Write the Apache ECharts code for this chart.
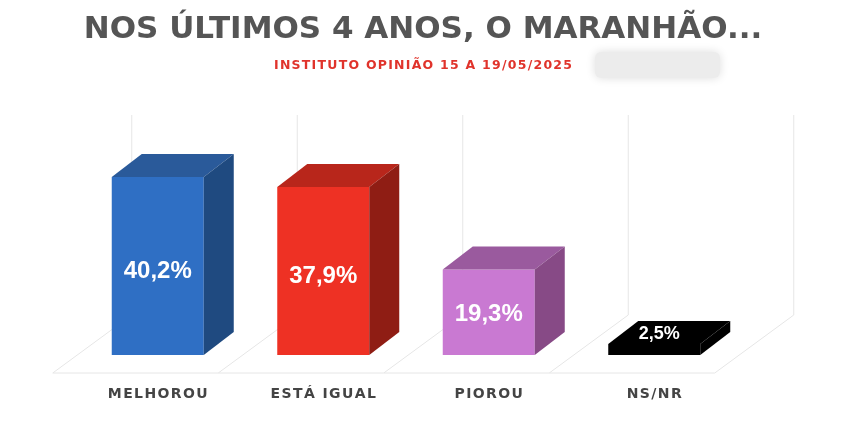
<!DOCTYPE html>
<html><head><meta charset="utf-8">
<script src="https://cdn.jsdelivr.net/npm/echarts@6/dist/echarts.min.js"></script>
<style>html,body{margin:0;background:#fff}#c{width:860px;height:425px}</style>
</head><body><div id="c"></div>
<script>
const categories = ['MELHOROU', 'ESTÁ IGUAL', 'PIOROU', 'NS/NR'];
const values = [40.2, 37.9, 19.3, 2.5];
const valueLabels = ['40,2%', '37,9%', '19,3%', '2,5%'];
const frontColors = ['#2f6fc4', '#ee3124', '#c979d2', '#000000'];
const topColors = ['#2a5a9a', '#b8261b', '#9a5a9e', '#000000'];
const sideColors = ['#1f4a80', '#8f1d14', '#874a86', '#000000'];

const chart = echarts.init(document.getElementById('c'));
const DX = 30, DY = 23, HALF = 46;

function floorItem(params, api) {
  const i = api.value(0);
  const c = api.coord([i, 0]);
  const band = api.size([1, 0])[0];
  const kids = [];
  const st = {stroke: '#e6e6e6', lineWidth: 1};
  const addDiv = (cx) => {
    kids.push({type: 'line', shape: {x1: cx - 105, y1: c[1] + 18, x2: cx - 26, y2: c[1] - 40}, style: st, silent: true});
    kids.push({type: 'line', shape: {x1: cx - 26, y1: c[1] - 40, x2: cx - 26, y2: c[1] - 240}, style: st, silent: true});
  };
  addDiv(c[0]);
  if (i === categories.length - 1) addDiv(c[0] + band);
  kids.push({type: 'line', shape: {x1: c[0] - 105, y1: c[1] + 18, x2: c[0] - 105 + band, y2: c[1] + 18}, style: st, silent: true});
  return {type: 'group', children: kids};
}

function barItem(params, api) {
  const i = api.value(0);
  const b = api.coord([i, 0]);
  const t = api.coord([i, api.value(1)]);
  const x0 = b[0] - HALF, x1 = b[0] + HALF, yb = b[1], yt = t[1];
  const kids = [
    {type: 'polygon', shape: {points: [[x0, yt], [x1, yt], [x1, yb], [x0, yb]]}, style: {fill: frontColors[i]}},
    {type: 'polygon', shape: {points: [[x0, yt], [x0 + DX, yt - DY], [x1 + DX, yt - DY], [x1, yt]]}, style: {fill: topColors[i]}},
    {type: 'polygon', shape: {points: [[x1, yt], [x1 + DX, yt - DY], [x1 + DX, yb - DY], [x1, yb]]}, style: {fill: sideColors[i]}}
  ];
  let ly = (yt + yb) / 2 + 5;
  let lx = b[0];
  if (i === 2) ly = yt + 45;
  if (i === 3) { ly = yt - 10; lx = b[0] + 5; }
  const fs = i === 3 ? 18 : 24;
  kids.push({type: 'text', style: {text: valueLabels[i], x: lx, y: ly, fill: '#fff', font: `bold ${fs}px "Liberation Sans", Arial, sans-serif`, align: 'center', verticalAlign: 'middle'}});
  return {type: 'group', children: kids};
}

chart.setOption({
  animation: false,
  title: [
    {text: 'NOS ÚLTIMOS 4 ANOS, O MARANHÃO...', left: 418, top: 9, textAlign: 'center',
     textStyle: {fontSize: 31, fontWeight: 'bold', color: '#555555', fontFamily: '"DejaVu Sans", sans-serif'}},
    {text: 'INSTITUTO OPINIÃO 15 A 19/05/2025'.split('').join('\u200A'), left: 418, top: 54, textAlign: 'center',
     textStyle: {fontSize: 12.5, fontWeight: 'bold', color: '#e0332b', fontFamily: '"DejaVu Sans", sans-serif'}}
  ],
  graphic: [{type: 'rect', shape: {x: 595, y: 52, width: 125, height: 26, r: 6}, style: {fill: '#ececec', shadowBlur: 10, shadowColor: '#dddddd'}}],
  grid: {left: 75, right: 123, top: 133.5, bottom: 70},
  xAxis: {type: 'category', data: categories, axisLine: {show: false}, axisTick: {show: false},
    axisLabel: {margin: 32, color: '#444', fontWeight: 'bold', fontSize: 14, fontFamily: '"DejaVu Sans", sans-serif',
      formatter: v => v.split('').join('\u200A')}},
  yAxis: {type: 'value', min: 0, max: 50, show: false, splitLine: {show: false}},
  series: [
    {type: 'custom', renderItem: floorItem, data: categories.map((c, i) => [i, 0]), z: 1, silent: true},
    {type: 'custom', renderItem: barItem, data: values.map((v, i) => [i, v]), z: 2}
  ]
});
</script></body></html>
